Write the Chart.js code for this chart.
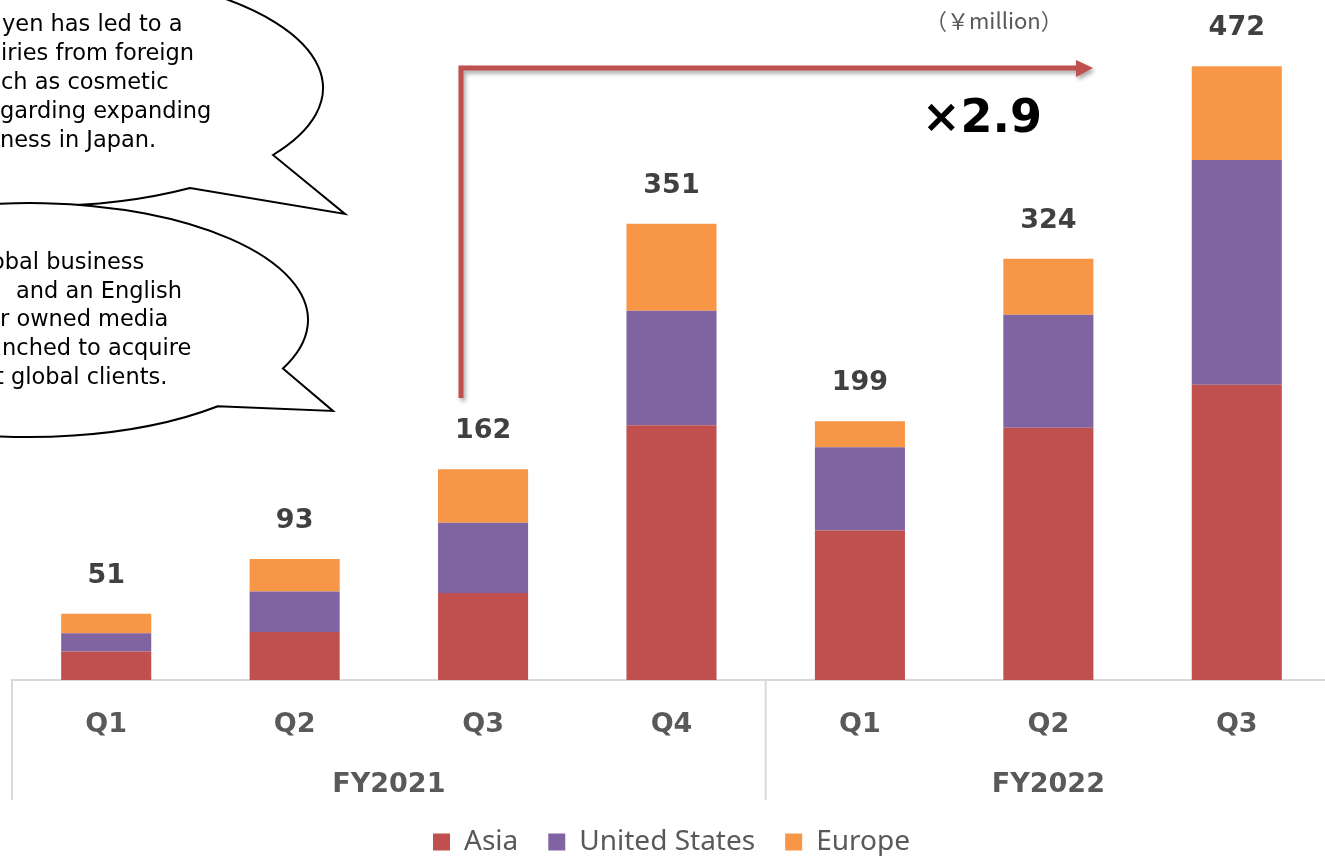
<!DOCTYPE html>
<html><head><meta charset="utf-8">
<script src="https://cdn.jsdelivr.net/npm/chart.js@4"></script>
<style>
html,body{margin:0;padding:0;background:#fff;overflow:hidden;width:1325px;height:856px}
#wrap{position:relative;width:1331px;height:866px}
</style></head>
<body><div id="wrap"><canvas id="c" width="1331" height="866"></canvas></div>
<script>
const quarters = ['Q1','Q2','Q3','Q4','Q1','Q2','Q3'];
const fiscalYears = ['FY2021','FY2021','FY2021','FY2021','FY2022','FY2022','FY2022'];
const asia = [22,37,67,196,115,194,227];
const unitedStates = [14,31,54,88,64,87,173];
const europe = [15,25,41,67,20,43,72];
const seriesNames = ['Asia','United States','Europe'];
const seriesColors = ['#C0504D','#8064A2','#F79646'];
const unitLabel = '（￥million）';
const growthLabel = '×2.9';
const bubble1Lines = ['yen has led to a','iries from foreign','ch as cosmetic','garding expanding','ness in Japan.'];
const bubble2Lines = ['obal business','and an English','r owned media','nched to acquire','t global clients.'];

const BOLD = '"DejaVu Sans", Verdana, sans-serif';

const overlay = {
  id: 'overlay',
  afterDatasetsDraw(chart) {
    const ctx = chart.ctx;
    const n = quarters.length;
    const lastMeta = chart.getDatasetMeta(chart.data.datasets.length - 1);
    ctx.save();
    ctx.font = 'bold 27px ' + BOLD;
    ctx.fillStyle = '#404040';
    ctx.textAlign = 'center';
    ctx.textBaseline = 'middle';
    for (let i = 0; i < n; i++) {
      const total = chart.data.datasets.reduce((s, d) => s + d.data[i], 0);
      const el = lastMeta.data[i];
      ctx.fillText(String(total), el.x, el.y - 38);
    }
    ctx.restore();
  },
  afterDraw(chart) {
    const ctx = chart.ctx;
    const xs = chart.scales.x;
    const area = chart.chartArea;
    const n = quarters.length;
    const half = (xs.getPixelForValue(1) - xs.getPixelForValue(0)) / 2;
    ctx.save();
    ctx.strokeStyle = '#D9D9D9';
    ctx.lineWidth = 2;
    const groups = [];
    fiscalYears.forEach((g, i) => {
      if (!groups.length || groups[groups.length - 1].label !== g) groups.push({label: g, start: i, end: i});
      else groups[groups.length - 1].end = i;
    });
    const seps = [];
    groups.forEach(g => { seps.push(xs.getPixelForValue(g.start) - half); });
    seps.push(xs.getPixelForValue(n - 1) + half);
    seps.forEach(x => {
      ctx.beginPath(); ctx.moveTo(x, area.bottom); ctx.lineTo(x, area.bottom + 120); ctx.stroke();
    });
    ctx.font = 'bold 27px ' + BOLD;
    ctx.fillStyle = '#595959';
    ctx.textAlign = 'center';
    ctx.textBaseline = 'middle';
    groups.forEach(g => {
      const cx = (xs.getPixelForValue(g.start) + xs.getPixelForValue(g.end)) / 2;
      ctx.fillText(g.label, cx, area.bottom + 105);
    });

    function bubble(cx, cy, rx, ry, p1, tip, p2) {
      const ta = Math.atan2((p1[1] - cy) / ry, (p1[0] - cx) / rx);
      const tb = Math.atan2((p2[1] - cy) / ry, (p2[0] - cx) / rx);
      ctx.beginPath();
      ctx.ellipse(cx, cy, rx, ry, 0, ta, tb, true);
      ctx.lineTo(tip[0], tip[1]);
      ctx.closePath();
      ctx.fillStyle = '#fff';
      ctx.fill();
      ctx.strokeStyle = '#000';
      ctx.lineWidth = 2;
      ctx.stroke();
    }
    bubble(40, 88, 283, 118, [273, 155], [345, 214], [190, 188]);
    bubble(30, 320, 278, 117, [280, 368], [333, 411], [213, 404]);
    ctx.font = '22.5px "DejaVu Sans", Verdana, sans-serif';
    ctx.fillStyle = '#000';
    ctx.textAlign = 'left';
    ctx.textBaseline = 'middle';
    const b1x = [2, 1, 1, 0, 0];
    bubble1Lines.forEach((t, i) => ctx.fillText(t, b1x[i], 25 + i * 29));
    const b2x = [-9, 16, 0, 2, -5];
    bubble2Lines.forEach((t, i) => ctx.fillText(t, b2x[i], 263 + i * 28.7));

    ctx.save();
    ctx.shadowColor = 'rgba(0,0,0,0.35)';
    ctx.shadowBlur = 4;
    ctx.shadowOffsetX = 2;
    ctx.shadowOffsetY = 3;
    ctx.strokeStyle = '#C0504D';
    ctx.fillStyle = '#C0504D';
    ctx.lineWidth = 5;
    ctx.lineJoin = 'miter';
    ctx.beginPath();
    ctx.moveTo(461, 398);
    ctx.lineTo(461, 68);
    ctx.lineTo(1078, 68);
    ctx.stroke();
    ctx.beginPath();
    ctx.moveTo(1076, 60);
    ctx.lineTo(1093, 68);
    ctx.lineTo(1076, 77);
    ctx.closePath();
    ctx.fill();
    ctx.restore();

    ctx.font = 'bold 46px ' + BOLD;
    ctx.fillStyle = '#000';
    ctx.textAlign = 'left';
    ctx.textBaseline = 'middle';
    ctx.fillText(growthLabel, 922, 120);

    ctx.font = '22px "Noto Sans CJK JP", "Noto Sans", sans-serif';
    ctx.fillStyle = '#595959';
    ctx.fillText(unitLabel, 925, 21);
    ctx.restore();
  }
};

const datasets = [asia, unitedStates, europe].map((d, i) => ({
  label: seriesNames[i],
  data: d,
  backgroundColor: seriesColors[i],
  borderWidth: 0,
  barPercentage: 0.478,
  categoryPercentage: 1.0
}));

new Chart(document.getElementById('c'), {
  type: 'bar',
  data: { labels: quarters, datasets },
  options: {
    responsive: false,
    animation: false,
    layout: { padding: { left: 12, right: 0, top: 0, bottom: 0 } },
    scales: {
      x: {
        stacked: true,
        grid: { display: false },
        border: { display: true, color: '#D9D9D9', width: 2 },
        ticks: { color: '#595959', font: { family: BOLD, size: 27, weight: 'bold' }, padding: 21, maxRotation: 0 },
        afterFit(s) { s.height = 118; }
      },
      y: { stacked: true, display: false, min: 0, max: 523 }
    },
    plugins: {
      legend: {
        position: 'bottom',
        labels: {
          boxWidth: 17, boxHeight: 17, padding: 30,
          color: '#595959',
          font: { family: '"Noto Sans", sans-serif', size: 28 }
        }
      },
      tooltip: { enabled: false }
    }
  },
  plugins: [overlay]
});
</script>
</body></html>
